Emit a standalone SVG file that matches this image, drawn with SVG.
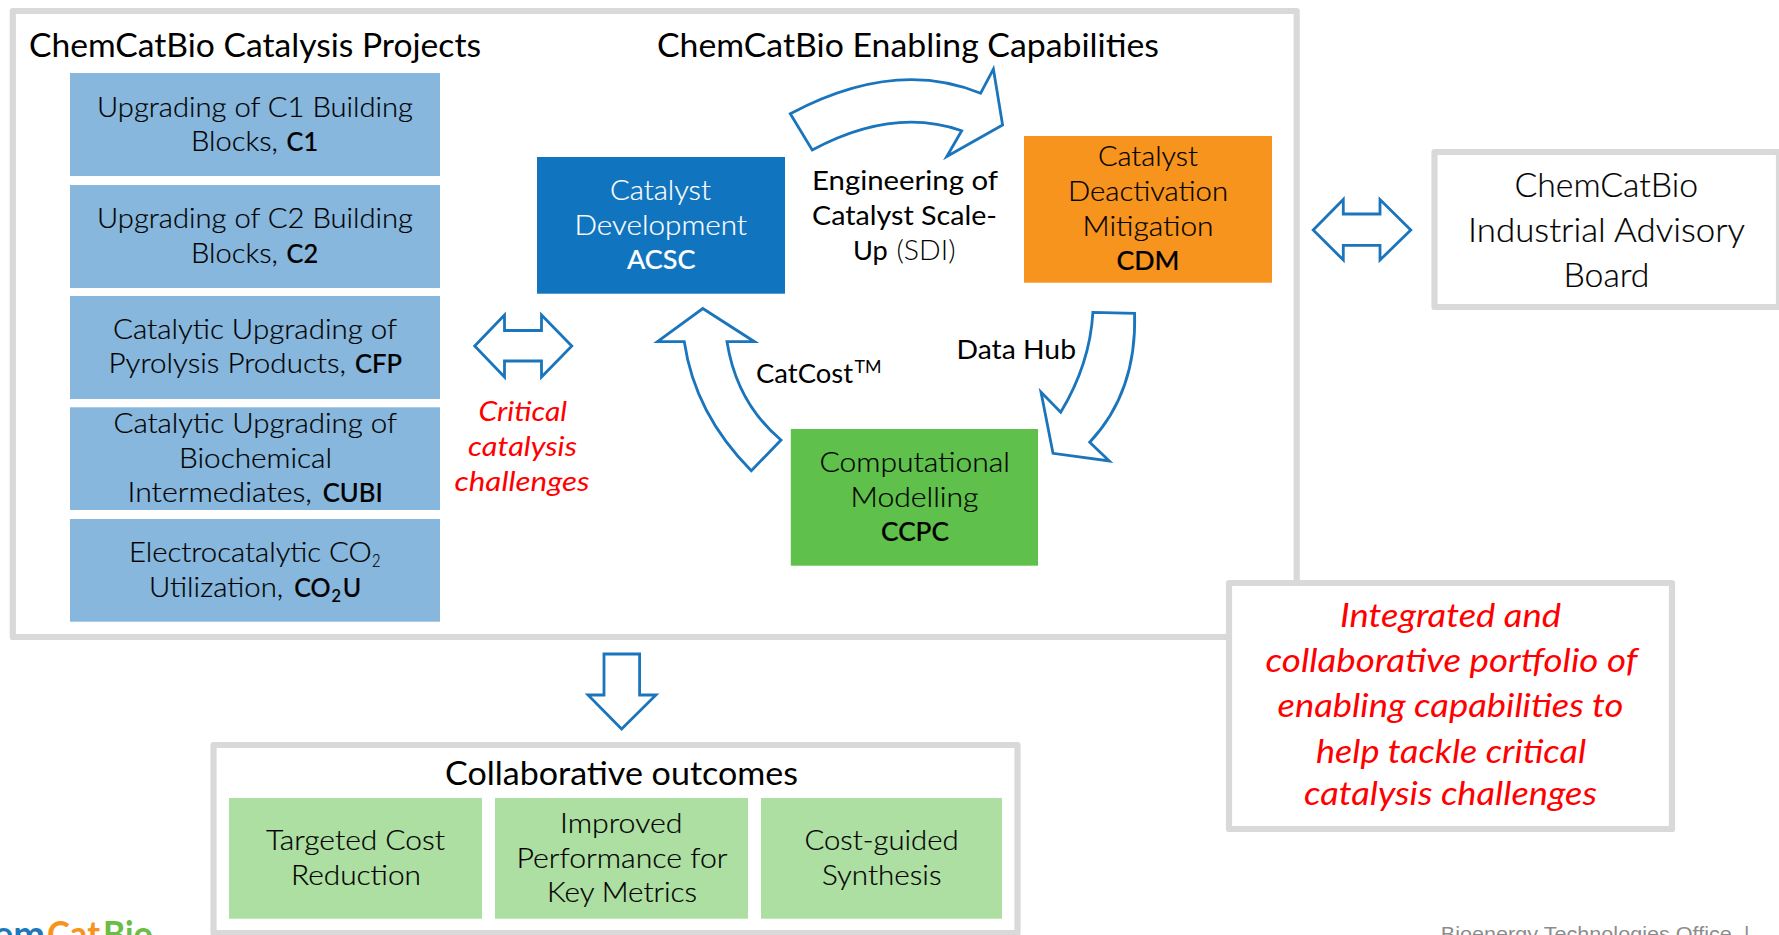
<svg xmlns="http://www.w3.org/2000/svg" width="1779" height="935" viewBox="0 0 1779 935">
<style>
text{font-family:"Lato","Liberation Sans",sans-serif}
.l{font-weight:300;font-size:27.5px;fill:#000;stroke:#000;stroke-width:.2}
.w{font-weight:300;font-size:27.5px;fill:#fff;stroke:#fff;stroke-width:.2}
.b{font-weight:500}
.t{font-weight:300}
.h{font-weight:400;font-size:32.5px;fill:#000}
.m{font-weight:400;font-size:27.5px;fill:#000}
.r{font-style:italic;font-weight:400;font-size:27.5px;fill:#f00}
.rb{font-style:italic;font-weight:400;font-size:32.5px;fill:#f00}
.a{font-weight:300;font-size:32.5px;fill:#000;stroke:#000;stroke-width:.2}
.s{font-size:18px}
.frame{fill:#fff;stroke:#d9d9d9;stroke-width:6.2;stroke-linejoin:round}
.arrow{fill:#fff;stroke:#1a75bc;stroke-width:2.8;stroke-linejoin:miter}
.p{fill:#87b7dd}
.o{fill:#aedfa2}
.f{font-family:"Liberation Sans",Arial,sans-serif;font-size:21px;fill:#8c8c8c}
</style>
<g id="main-frame"><rect class="frame" x="12.8" y="11" width="1283.9" height="626"/></g>
<g id="title-projects"><text class="h" x="29" y="57" textLength="452" lengthAdjust="spacingAndGlyphs">ChemCatBio Catalysis Projects</text></g>
<g id="title-capabilities"><text class="h" x="657" y="57" textLength="502" lengthAdjust="spacingAndGlyphs">ChemCatBio Enabling Capabilities</text></g>
<g id="project-c1"><rect class="p" x="70" y="73" width="370" height="103"/>
<text class="l" x="97" y="117" textLength="316" lengthAdjust="spacingAndGlyphs">Upgrading of C1 Building</text>
<text class="l" y="151"><tspan x="191" textLength="87" lengthAdjust="spacingAndGlyphs">Blocks,</tspan> <tspan class="b" x="286.6" textLength="31.5" lengthAdjust="spacingAndGlyphs">C1</tspan></text></g>
<g id="project-c2"><rect class="p" x="70" y="185" width="370" height="103"/>
<text class="l" x="97" y="228" textLength="316" lengthAdjust="spacingAndGlyphs">Upgrading of C2 Building</text>
<text class="l" y="263"><tspan x="191" textLength="87" lengthAdjust="spacingAndGlyphs">Blocks,</tspan> <tspan class="b" x="286.6" textLength="31.5" lengthAdjust="spacingAndGlyphs">C2</tspan></text></g>
<g id="project-cfp"><rect class="p" x="70" y="296" width="370" height="103"/>
<text class="l" x="113" y="339.3" textLength="284" lengthAdjust="spacingAndGlyphs">Catalytic Upgrading of</text>
<text class="l" y="373"><tspan x="108.5" textLength="237.5" lengthAdjust="spacingAndGlyphs">Pyrolysis Products,</tspan> <tspan class="b" x="355" textLength="47" lengthAdjust="spacingAndGlyphs">CFP</tspan></text></g>
<g id="project-cubi"><rect class="p" x="70" y="407.3" width="370" height="102.7"/>
<text class="l" x="113.5" y="432.7" textLength="283.5" lengthAdjust="spacingAndGlyphs">Catalytic Upgrading of</text>
<text class="l" x="179" y="467.7" textLength="153" lengthAdjust="spacingAndGlyphs">Biochemical</text>
<text class="l" y="501.7"><tspan x="127.5" textLength="184.5" lengthAdjust="spacingAndGlyphs">Intermediates,</tspan> <tspan class="b" x="322.7" textLength="60" lengthAdjust="spacingAndGlyphs">CUBI</tspan></text></g>
<g id="project-co2u"><rect class="p" x="70" y="519" width="370" height="102.7"/>
<text class="l" y="562.3"><tspan x="129" textLength="242.7" lengthAdjust="spacingAndGlyphs">Electrocatalytic CO</tspan><tspan class="s" x="372" dy="4.5" textLength="8.5" lengthAdjust="spacingAndGlyphs">2</tspan></text>
<text class="l" y="596.7"><tspan x="149" textLength="134.3" lengthAdjust="spacingAndGlyphs">Utilization,</tspan> <tspan class="b" x="294.3" textLength="36.4" lengthAdjust="spacingAndGlyphs">CO</tspan><tspan class="b s" x="331.5" dy="5" textLength="9.5" lengthAdjust="spacingAndGlyphs">2</tspan><tspan class="b" x="342.7" dy="-5" textLength="18.5" lengthAdjust="spacingAndGlyphs">U</tspan></text></g>
<g id="connectors">
<path class="arrow" d="M474.7,346L504.5,315V330.5H541.5V315L571.8,346L541.5,377V361H504.5V377Z"/>
<path class="arrow" d="M1313.2,230L1343.3,199.5V214H1380V199.5L1410.8,230L1380,260V245.3H1343.3V260Z"/>
<path class="arrow" d="M790.3,113.7Q895,58 980.6,93.3L993.4,69L1002.6,125L946.8,156.5L961.7,130.7Q893,106.6 812.2,150Z"/>
<path class="arrow" d="M702.8,308.5L754.5,341.7H727Q736.6,402.6 781,440L751.3,470.7Q694.8,413.8 684.3,341.7H657.5Z"/>
<path class="arrow" d="M1092.9,312.3L1134.6,313.3Q1137,392 1089.7,442.3L1109.3,461L1053,453.3L1041,392L1060.7,412.3Q1090,363.6 1092.9,312.3Z"/>
<path class="arrow" d="M604,654H639.6V695H656L621.6,729L588,695H604Z"/>
</g>
<g id="node-acsc"><rect x="537" y="157" width="248" height="136.7" fill="#1174be"/>
<text class="w" x="610" y="199.7" textLength="101" lengthAdjust="spacingAndGlyphs">Catalyst</text>
<text class="w" x="574.5" y="235" textLength="172.5" lengthAdjust="spacingAndGlyphs">Development</text>
<text class="w b" x="627" y="269" textLength="68.5" lengthAdjust="spacingAndGlyphs">ACSC</text></g>
<g id="node-cdm"><rect x="1024" y="136" width="248" height="146.7" fill="#f7941d"/>
<text class="l" x="1098" y="166" textLength="100" lengthAdjust="spacingAndGlyphs">Catalyst</text>
<text class="l" x="1068" y="201" textLength="160" lengthAdjust="spacingAndGlyphs">Deactivation</text>
<text class="l" x="1082.5" y="236" textLength="131" lengthAdjust="spacingAndGlyphs">Mitigation</text>
<text class="l b" x="1116.5" y="270" textLength="63" lengthAdjust="spacingAndGlyphs">CDM</text></g>
<g id="node-ccpc"><rect x="790.8" y="429" width="247.2" height="136.7" fill="#5fc14b"/>
<text class="l" x="819.5" y="472" textLength="190.5" lengthAdjust="spacingAndGlyphs">Computational</text>
<text class="l" x="850.5" y="507" textLength="128" lengthAdjust="spacingAndGlyphs">Modelling</text>
<text class="l b" x="881" y="541" textLength="68" lengthAdjust="spacingAndGlyphs">CCPC</text></g>
<g id="label-sdi">
<text class="m" x="812" y="189.5" textLength="186" lengthAdjust="spacingAndGlyphs">Engineering of</text>
<text class="m" x="812" y="225" textLength="185" lengthAdjust="spacingAndGlyphs">Catalyst Scale-</text>
<text class="m" y="259.5"><tspan x="853" textLength="34.8" lengthAdjust="spacingAndGlyphs">Up</tspan> <tspan class="t" x="896.5" textLength="59" lengthAdjust="spacingAndGlyphs">(SDI)</tspan></text></g>
<g id="label-catcost"><text class="m" y="383.3"><tspan x="756" textLength="97" lengthAdjust="spacingAndGlyphs">CatCost</tspan><tspan class="s" x="854.6" dy="-10" textLength="27" lengthAdjust="spacingAndGlyphs">TM</tspan></text></g>
<g id="label-datahub"><text class="m" x="956.5" y="359" textLength="119.5" lengthAdjust="spacingAndGlyphs">Data Hub</text></g>
<g id="label-critical">
<text class="r" x="478.5" y="421" textLength="88.5" lengthAdjust="spacingAndGlyphs">Critical</text>
<text class="r" x="468" y="456" textLength="109" lengthAdjust="spacingAndGlyphs">catalysis</text>
<text class="r" x="454.5" y="490.5" textLength="135" lengthAdjust="spacingAndGlyphs">challenges</text></g>
<g id="advisory-board"><rect class="frame" x="1434.5" y="152" width="344.5" height="155"/>
<text class="a" x="1514.5" y="197" textLength="183.5" lengthAdjust="spacingAndGlyphs">ChemCatBio</text>
<text class="a" x="1468" y="241.7" textLength="277" lengthAdjust="spacingAndGlyphs">Industrial Advisory</text>
<text class="a" x="1563.5" y="286.7" textLength="86" lengthAdjust="spacingAndGlyphs">Board</text></g>
<g id="summary-box"><rect class="frame" x="1229" y="583" width="443" height="246"/>
<text class="rb" x="1340" y="626.7" textLength="221" lengthAdjust="spacingAndGlyphs">Integrated and</text>
<text class="rb" x="1265.5" y="672" textLength="372" lengthAdjust="spacingAndGlyphs">collaborative portfolio of</text>
<text class="rb" x="1277.5" y="717" textLength="346" lengthAdjust="spacingAndGlyphs">enabling capabilities to</text>
<text class="rb" x="1316" y="762.7" textLength="270" lengthAdjust="spacingAndGlyphs">help tackle critical</text>
<text class="rb" x="1304" y="805.3" textLength="293" lengthAdjust="spacingAndGlyphs">catalysis challenges</text></g>
<g id="outcomes-frame"><rect class="frame" x="213.5" y="745" width="804" height="188"/>
<text class="h" x="445" y="785" textLength="353" lengthAdjust="spacingAndGlyphs">Collaborative outcomes</text></g>
<g id="outcome-cost"><rect class="o" x="229" y="798" width="253" height="120.7"/>
<text class="l" x="266" y="850.3" textLength="179" lengthAdjust="spacingAndGlyphs">Targeted Cost</text>
<text class="l" x="291" y="885" textLength="130" lengthAdjust="spacingAndGlyphs">Reduction</text></g>
<g id="outcome-performance"><rect class="o" x="495" y="798" width="253" height="120.7"/>
<text class="l" x="560" y="832.7" textLength="122.5" lengthAdjust="spacingAndGlyphs">Improved</text>
<text class="l" x="516.5" y="867.8" textLength="211" lengthAdjust="spacingAndGlyphs">Performance for</text>
<text class="l" x="547" y="902" textLength="150" lengthAdjust="spacingAndGlyphs">Key Metrics</text></g>
<g id="outcome-synthesis"><rect class="o" x="761" y="798" width="241" height="120.7"/>
<text class="l" x="804.5" y="850.3" textLength="154" lengthAdjust="spacingAndGlyphs">Cost-guided</text>
<text class="l" x="822" y="885" textLength="119.5" lengthAdjust="spacingAndGlyphs">Synthesis</text></g>
<g id="logo"><text y="946.5" font-size="37" font-weight="700"><tspan x="-7" fill="#1f77bb" textLength="52" lengthAdjust="spacingAndGlyphs">em</tspan><tspan x="47" fill="#f7941d" textLength="53" lengthAdjust="spacingAndGlyphs">Cat</tspan><tspan x="103" fill="#6abd45" textLength="50" lengthAdjust="spacingAndGlyphs">Bio</tspan></text></g>
<g id="footer"><text class="f" x="1440.8" y="941" textLength="291" lengthAdjust="spacingAndGlyphs">Bioenergy Technologies Office</text>
<text class="f" x="1744" y="941">|</text></g>
</svg>
